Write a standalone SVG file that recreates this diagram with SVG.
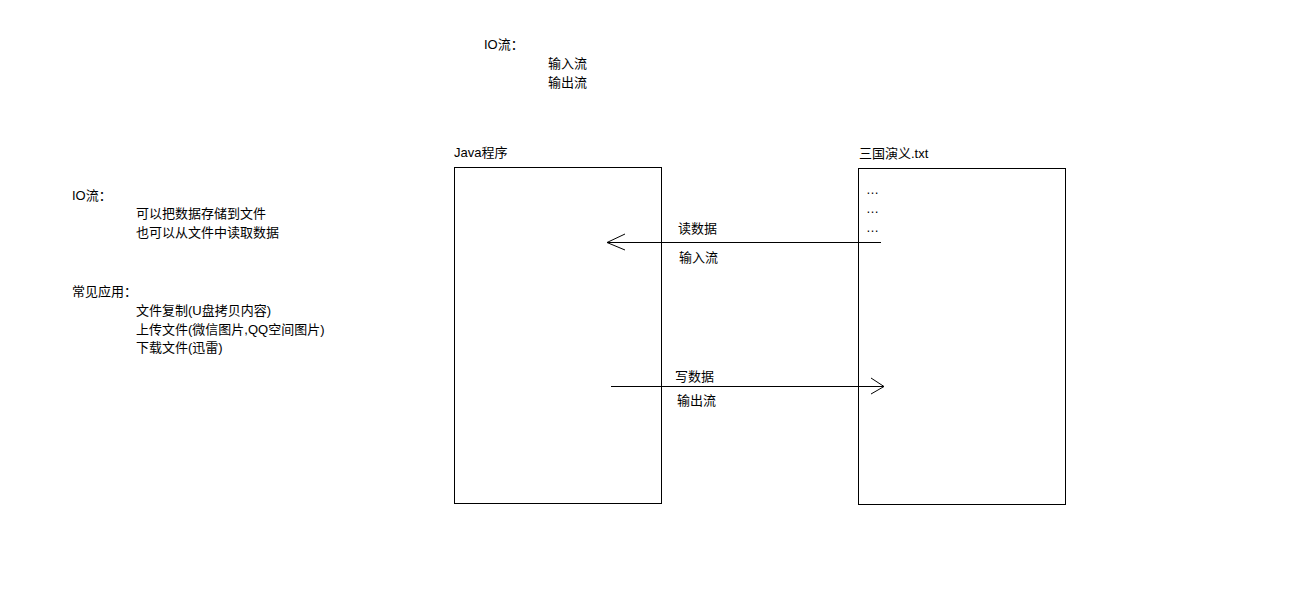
<svg xmlns="http://www.w3.org/2000/svg" width="1297" height="600" viewBox="0 0 1297 600">
<style>
text{font-family:"Liberation Sans","Noto Sans CJK SC",sans-serif;font-size:13px;fill:#000}
.box{fill:#fff;stroke:#000;stroke-width:1}
.ln{stroke:#000;stroke-width:1;fill:none}
</style>
<rect width="1297" height="600" fill="#fff"/>
<g id="top-notes">
<text x="484" y="49">IO流：</text>
<text x="548" y="68">输入流</text>
<text x="548" y="87">输出流</text>
</g>
<g id="left-notes">
<text x="72" y="200">IO流：</text>
<text x="136" y="218">可以把数据存储到文件</text>
<text x="136" y="237">也可以从文件中读取数据</text>
<text x="72" y="296">常见应用：</text>
<text x="136" y="315">文件复制(U盘拷贝内容)</text>
<text x="136" y="334">上传文件(微信图片,QQ空间图片)</text>
<text x="136" y="352">下载文件(迅雷)</text>
</g>
<g id="java">
<text x="454" y="157">Java程序</text>
<rect class="box" x="454.5" y="167.5" width="207" height="336"/>
</g>
<g id="file">
<text x="859" y="158">三国演义.txt</text>
<rect class="box" x="858.5" y="168.5" width="207" height="336"/>
<text x="866" y="194">…</text>
<text x="866" y="213">…</text>
<text x="866" y="232">…</text>
</g>
<g id="connectors">
<line class="ln" x1="881" y1="242.5" x2="607" y2="242.5"/>
<polyline class="ln" points="625,234 607,242.5 625,250"/>
<text x="678" y="233">读数据</text>
<text x="679" y="262">输入流</text>
<line class="ln" x1="611" y1="386.5" x2="884" y2="386.5"/>
<polyline class="ln" points="871,378 884,386.5 871,394"/>
<text x="675" y="381">写数据</text>
<text x="677" y="405">输出流</text>
</g>
</svg>
